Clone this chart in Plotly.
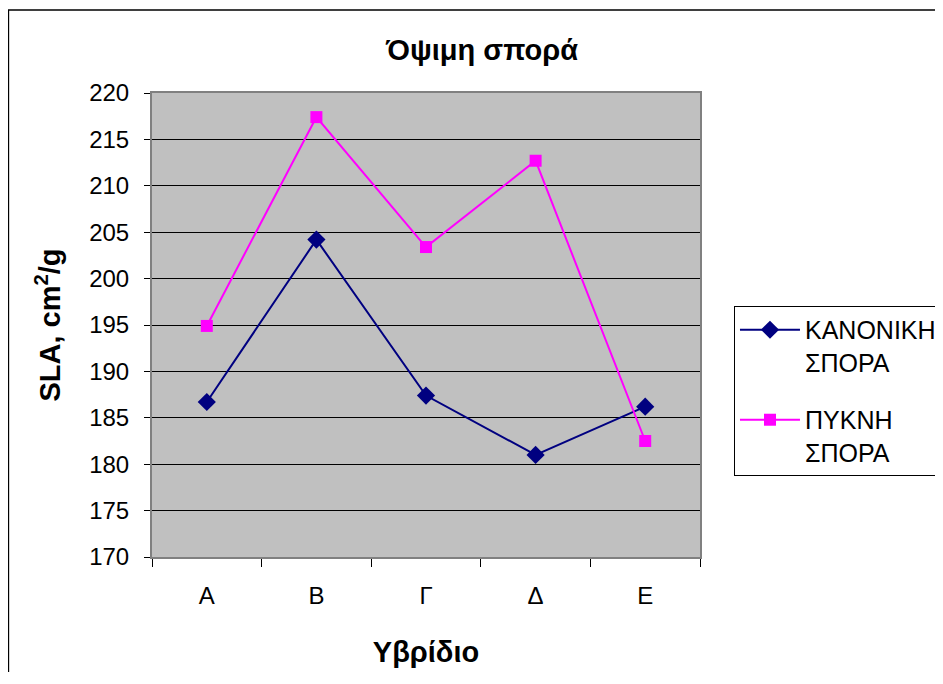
import plotly.graph_objects as go

# hybrids (x categories)
hybrids = ["Α", "Β", "Γ", "Δ", "Ε"]

# SLA values, cm2/g
kanoniki = [186.7, 204.2, 187.4, 181.0, 186.2]
pykni = [194.9, 217.4, 203.4, 212.7, 182.5]

font_family = "Liberation Sans, Arial, sans-serif"

fig = go.Figure()

fig.add_trace(go.Scatter(
    x=hybrids, y=kanoniki,
    name="ΚΑΝΟΝΙΚΗ<br>ΣΠΟΡΑ",
    legendgroup="a",
    mode="lines+markers",
    line=dict(color="#000080", width=2),
    marker=dict(symbol="diamond", size=14, color="#000080"),
))

fig.add_trace(go.Scatter(
    x=hybrids, y=pykni,
    name="ΠΥΚΝΗ<br>ΣΠΟΡΑ",
    legendgroup="b",
    mode="lines+markers",
    line=dict(color="#FF00FF", width=2),
    marker=dict(symbol="square", size=12, color="#FF00FF"),
))

# outer chart border (cropped on right and bottom like the original)
fig.add_shape(type="rect", xref="paper", yref="paper",
              x0=-0.262, x1=1.6, y0=-0.5, y1=1.179,
              line=dict(color="black", width=1.5), layer="below")

# the page body keeps its default 8px margin, so the figure is kept
# small enough to fit the window without scrollbars
fig.update_layout(
    width=927, height=664,
    margin=dict(l=144, r=235, t=85, b=115, autoexpand=False),
    paper_bgcolor="white",
    plot_bgcolor="#C0C0C0",
    font=dict(family=font_family, size=24, color="black"),
    title=dict(text="<b>Όψιμη σπορά</b>", x=474 / 927, xanchor="center",
               xref="container",
               y=1 - 42 / 664, yanchor="middle",
               font=dict(size=29)),
    showlegend=True,
    legend=dict(
        x=1.062, y=0.541, xanchor="left", yanchor="top",
        bordercolor="black", borderwidth=1, bgcolor="white",
        font=dict(size=25), traceorder="grouped", tracegroupgap=22,
        itemwidth=60, valign="top",
    ),
    xaxis=dict(
        type="category",
        range=[-0.5, 4.5],
        showgrid=False,
        showline=True, linecolor="#808080", linewidth=2,
        mirror=True,
        ticks="outside", tickson="boundaries", ticklen=8,
        tickcolor="black",
        ticklabelstandoff=16,
        title=dict(text="<b>Υβρίδιο</b>", font=dict(size=29), standoff=34),
    ),
    yaxis=dict(
        range=[170, 220],
        dtick=5,
        showgrid=True, gridcolor="black", gridwidth=1,
        showline=True, linecolor="#808080", linewidth=2,
        mirror=True,
        ticks="outside", ticklen=6, tickcolor="black",
        ticklabelstandoff=10,
        zeroline=False,
        title=dict(text="<b>SLA, cm<sup>2</sup>/g</b>", font=dict(size=29), standoff=20),
    ),
)

fig.write_html("out.html")
